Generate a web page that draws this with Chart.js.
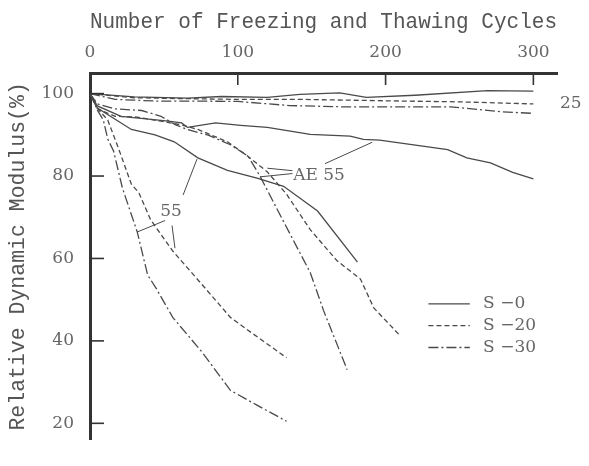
<!DOCTYPE html>
<html>
<head>
<meta charset="utf-8">
<script src="https://cdn.jsdelivr.net/npm/chart.js@4.4.1/dist/chart.umd.min.js"></script>
<style>
  html, body { margin: 0; padding: 0; background: #fff; }
  #chart { display: block; }
</style>
</head>
<body>
<canvas id="chart" width="589" height="466"></canvas>
<script>
// ─── DATA ────────────────────────────────────────────
const xTicks = [0, 100, 200, 300];
const yTicks = [20, 40, 60, 80, 100];

// w/c 25
const cyc25S0  = [0, 30, 66, 89, 120, 142, 169, 187, 220, 269, 300];
const rdm25S0  = [100, 99.2, 98.9, 99.3, 99.1, 99.8, 100.2, 99.1, 99.6, 100.7, 100.6];
const cyc25S20 = [0, 30, 60, 100, 142, 210, 250, 300];
const rdm25S20 = [100, 99.0, 98.8, 98.6, 98.6, 98.2, 98.0, 97.5];
const cyc25S30 = [0, 17, 44, 66, 100, 135, 170, 244, 278, 300];
const rdm25S30 = [100, 98.6, 98.2, 98.2, 98.1, 97.1, 96.8, 96.8, 95.6, 95.2];

// AE 55
const cycAES0  = [0, 5, 21, 53, 62, 66, 85, 102, 120, 149, 176, 185, 196, 242, 255, 271, 286, 300];
const rdmAES0  = [100, 97, 94.5, 93.3, 92.9, 91.8, 92.9, 92.3, 91.8, 90.1, 89.7, 88.9, 88.7, 86.4, 84.4, 83.2, 80.9, 79.3];
const cycAES20 = [0, 5, 17, 32, 48, 62, 73, 93, 105, 120, 133, 149, 167, 183, 192, 210];
const rdmAES20 = [100, 96.3, 94.5, 94.3, 93.3, 92.4, 91.3, 88.3, 85.3, 81, 75.6, 67, 59.5, 55, 48, 41.2];
const cycAES30 = [0, 5, 17, 35, 48, 58, 66, 80, 95, 107, 115, 129, 149, 158, 174];
const rdmAES30 = [100, 97.5, 96.3, 95.9, 94.5, 92.4, 91.3, 89.9, 87.6, 84.8, 80, 70.3, 56.6, 47.4, 33];

// 55
const cyc55S0  = [0, 5, 28, 44, 57, 73, 93, 113, 131, 154, 181];
const rdm55S0  = [100, 96.5, 91.3, 90, 88.3, 84.4, 81.4, 79.5, 77.5, 71.5, 59.1];
const cyc55S20 = [0, 6, 12, 19, 28, 33, 41, 56, 75, 95, 110, 133];
const rdm55S20 = [100, 96, 93.6, 87, 78, 76, 69.4, 61.8, 54, 45.7, 41.8, 35.9];
const cyc55S30 = [0, 5, 9, 12, 16, 22, 32, 39, 45, 56, 76, 95, 113, 133];
const rdm55S30 = [100, 96, 93.6, 89, 86, 77, 66.4, 56, 52.6, 45.7, 37.2, 28, 24.4, 20.5];

// ─── STYLE ───────────────────────────────────────────
const INK   = '#4a4a4a';
const AXIS  = '#333333';
const TEXT  = '#666666';
const SERIF = '"DejaVu Serif", "Liberation Serif", serif';
const MONO  = '"Liberation Mono", "DejaVu Sans Mono", monospace';

const DASH = {
  'S -0':  [],
  'S -20': [5, 3],
  'S -30': [10, 3, 2, 3],
};

function series(label, xs, ys) {
  return {
    label,
    data: xs.map((c, i) => ({ x: c, y: ys[i] })),
    borderColor: INK,
    borderWidth: 1.3,
    borderDash: DASH[label],
    pointRadius: 0,
    tension: 0,
    fill: false,
  };
}

const datasets = [
  series('S -0',  cyc25S0,  rdm25S0),
  series('S -20', cyc25S20, rdm25S20),
  series('S -30', cyc25S30, rdm25S30),
  series('S -0',  cycAES0,  rdmAES0),
  series('S -20', cycAES20, rdmAES20),
  series('S -30', cycAES30, rdmAES30),
  series('S -0',  cyc55S0,  rdm55S0),
  series('S -20', cyc55S20, rdm55S20),
  series('S -30', cyc55S30, rdm55S30),
];

// ─── INWARD TICKS, CALLOUTS, LEGEND ─────────────────
const paperMarks = {
  id: 'paperMarks',
  afterDraw(chart) {
    const { ctx, scales: { x, y } } = chart;
    const P = (cx, cy) => [x.getPixelForValue(cx), y.getPixelForValue(cy)];
    const seg = (a, b) => { ctx.beginPath(); ctx.moveTo(a[0], a[1]); ctx.lineTo(b[0], b[1]); ctx.stroke(); };

    ctx.save();
    // tick marks pointing into the plot
    ctx.strokeStyle = AXIS;
    ctx.lineWidth = 1.6;
    x.ticks.forEach(t => {
      if (t.value === 0) return;
      const px = x.getPixelForValue(t.value);
      seg([px, y.top], [px, y.top + 12]);
    });
    y.ticks.forEach(t => {
      const py = y.getPixelForValue(t.value);
      seg([x.left, py], [x.left + 14, py]);
    });

    // callouts
    ctx.strokeStyle = INK;
    ctx.lineWidth = 1;
    seg(P(159, 83), P(191, 88.2));
    seg(P(137, 81.3), P(120, 81.9));
    seg(P(137, 80.6), P(115, 79.8));
    seg(P(63, 75.4), P(72.4, 84.1));
    seg(P(50.8, 69.2), P(31.8, 66.4));
    seg(P(55.5, 68), P(57.5, 62.5));

    ctx.fillStyle = TEXT;
    ctx.font = '17px ' + SERIF;
    ctx.textAlign = 'left';
    ctx.textBaseline = 'middle';
    let p = P(137.5, 80.2); ctx.fillText('AE 55', p[0], p[1]);
    p = P(47.5, 71.3);      ctx.fillText('55', p[0], p[1]);
    p = P(318, 97.5);       ctx.fillText('25', p[0], p[1]);

    // legend
    const rows = [['S -0', 49], ['S -20', 43.7], ['S -30', 38.4]];
    rows.forEach(([name, lv]) => {
      ctx.strokeStyle = INK;
      ctx.lineWidth = 1.3;
      ctx.setLineDash(DASH[name]);
      seg(P(229, lv), P(257, lv));
      ctx.setLineDash([]);
      const q = P(266, lv);
      ctx.fillText(name.replace('S -', 'S \u2212'), q[0], q[1]);
    });
    ctx.restore();
  }
};

// ─── CHART ───────────────────────────────────────────
new Chart(document.getElementById('chart'), {
  type: 'line',
  data: { datasets },
  plugins: [paperMarks],
  options: {
    responsive: false,
    animation: false,
    devicePixelRatio: 1,
    layout: { padding: { left: 0, top: 0, right: 32, bottom: 9 } },
    plugins: { legend: { display: false }, tooltip: { enabled: false } },
    scales: {
      x: {
        type: 'linear',
        position: 'top',
        min: 0,
        max: 316,
        afterBuildTicks: s => { s.ticks = xTicks.map(v => ({ value: v })); },
        afterFit: s => { s.height = 73; },
        grid: { display: false, drawTicks: false },
        border: { display: true, width: 3, color: AXIS },
        ticks: { color: TEXT, font: { family: SERIF, size: 17 }, padding: 10, maxRotation: 0 },
        title: {
          display: true,
          text: 'Number of Freezing and Thawing Cycles',
          align: 'center',
          color: '#555',
          font: { family: MONO, size: 21.5 },
          padding: { top: 9, bottom: 0 },
        },
      },
      y: {
        type: 'linear',
        min: 16,
        max: 105,
        afterBuildTicks: s => { s.ticks = yTicks.map(v => ({ value: v })); },
        afterFit: s => { s.width = 90; },
        grid: { display: false, drawTicks: false },
        border: { display: true, width: 3, color: AXIS },
        ticks: { color: TEXT, font: { family: SERIF, size: 17 }, padding: 16 },
        title: {
          display: true,
          text: 'Relative Dynamic Modulus(%)',
          color: '#555',
          font: { family: MONO, size: 21.5 },
          padding: { top: 5, bottom: 0 },
        },
      },
    },
  },
});
</script>
</body>
</html>
